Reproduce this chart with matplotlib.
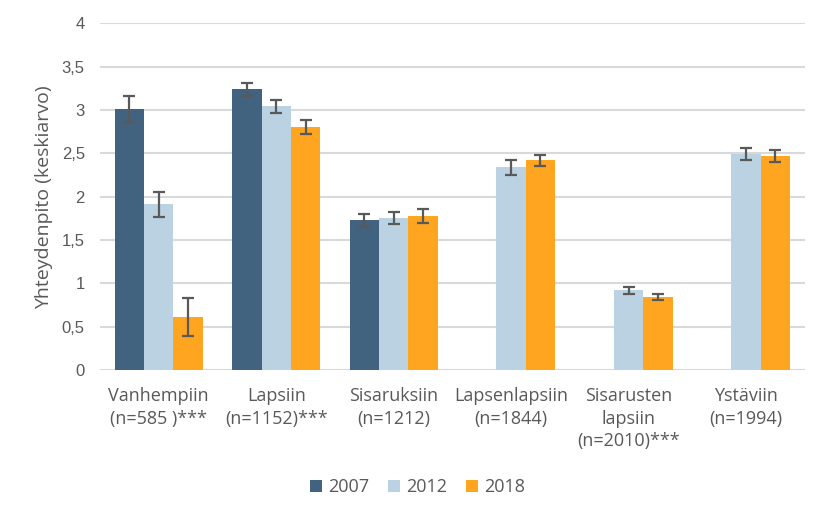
import matplotlib
matplotlib.use("Agg")
import matplotlib.pyplot as plt
import numpy as np

categories = ["Vanhempiin\n(n=585 )***", "Lapsiin\n(n=1152)***", "Sisaruksiin\n(n=1212)",
              "Lapsenlapsiin\n(n=1844)", "Sisarusten\nlapsiin\n(n=2010)***", "Ystäviin\n(n=1994)"]
years = ["2007", "2012", "2018"]
v2007 = [3.01, 3.24, 1.73, np.nan, np.nan, np.nan]
v2012 = [1.91, 3.045, 1.75, 2.34, 0.92, 2.495]
v2018 = [0.61, 2.80, 1.775, 2.42, 0.84, 2.47]
e2007 = [0.15, 0.075, 0.075, np.nan, np.nan, np.nan]
e2012 = [0.145, 0.075, 0.07, 0.085, 0.04, 0.07]
e2018 = [0.215, 0.08, 0.08, 0.065, 0.035, 0.07]
yticks = [0, 0.5, 1, 1.5, 2, 2.5, 3, 3.5, 4]
ytick_labels = ["0", "0,5", "1", "1,5", "2", "2,5", "3", "3,5", "4"]
ylabel = "Yhteydenpito (keskiarvo)"

colors = ["#41637f", "#bad2e1", "#ffa520"]
text_color = "#595959"
plt.rcParams['font.family'] = ['Open Sans', 'DejaVu Sans']

fig = plt.figure(figsize=(8.27, 5.2), dpi=100)
ax = fig.add_axes([0.121, 0.2885, 0.852, 0.6665])

x = np.arange(len(categories))
w = 0.25
series = [v2007, v2012, v2018]
errs = [e2007, e2012, e2018]
for i, (vals, er, c, lab) in enumerate(zip(series, errs, colors, years)):
    pos = x + (i - 1) * w
    ax.bar(pos, vals, width=w, color=c, label=lab, zorder=3)
    ax.errorbar(pos, vals, yerr=er, fmt="none", ecolor="#595959", elinewidth=1.6,
                capsize=4, capthick=1.6, zorder=4)

ax.set_ylim(0, 4)
ax.set_xlim(-0.5, len(categories) - 0.5)
ax.set_yticks(yticks)
ax.set_yticklabels(ytick_labels, family=["Liberation Sans", "DejaVu Sans"], fontsize=12)
ax.set_xticks(x)
ax.set_xticklabels(categories, linespacing=1.35, va="top", fontsize=13)
ax.yaxis.grid(True, color="#d9d9d9", linewidth=1.5, zorder=0)
ax.set_axisbelow(True)
for s in ax.spines.values():
    s.set_visible(False)
ax.tick_params(axis="both", length=0, colors=text_color)
ax.tick_params(axis="x", pad=12)
ax.tick_params(axis="y", pad=11)
ax.set_ylabel(ylabel, color=text_color, fontsize=14)
ax.yaxis.set_label_coords(-0.0667, 0.5)

leg = fig.legend(loc="center", bbox_to_anchor=(0.505, 0.063), ncol=3, frameon=False,
                 fontsize=13, handlelength=0.67, handleheight=0.67, handletextpad=0.33,
                 columnspacing=1.05)
for t in leg.get_texts():
    t.set_color(text_color)

fig.savefig("out.png", dpi=100)
